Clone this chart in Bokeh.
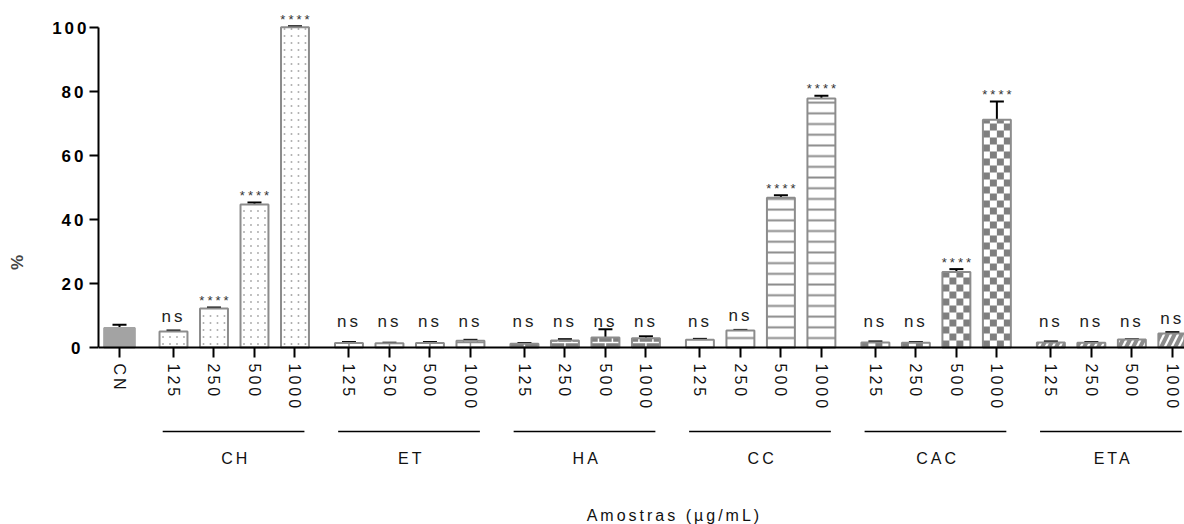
import math
from bokeh.plotting import figure
from bokeh.models import Range1d, FixedTicker, Whisker, TeeHead, ColumnDataSource
from bokeh.core.properties import value
from bokeh.embed import file_html
from bokeh.resources import INLINE

# ---- data -------------------------------------------------------------
groups = ["CH", "ET", "HA", "CC", "CAC", "ETA"]
concentrations = ["125", "250", "500", "1000"]

cn_label = "CN"
cn_mean = [6.1]
cn_err = [1.0]

ch_mean = [5.0, 12.2, 44.7, 100.1]
ch_err = [0.3, 0.3, 0.6, 0.3]
et_mean = [1.4, 1.3, 1.4, 2.1]
et_err = [0.3, 0.2, 0.3, 0.3]
ha_mean = [1.2, 2.2, 3.1, 2.9]
ha_err = [0.2, 0.4, 2.6, 0.6]
cc_mean = [2.4, 5.3, 46.8, 77.8]
cc_err = [0.3, 0.2, 0.8, 0.9]
cac_mean = [1.6, 1.5, 23.6, 71.2]
cac_err = [0.3, 0.2, 0.9, 5.7]
eta_mean = [1.6, 1.5, 2.5, 4.4]
eta_err = [0.3, 0.2, 0.1, 0.4]

ch_sig = ["ns", "****", "****", "****"]
et_sig = ["ns", "ns", "ns", "ns"]
ha_sig = ["ns", "ns", "ns", "ns"]
cc_sig = ["ns", "ns", "****", "****"]
cac_sig = ["ns", "ns", "****", "****"]
eta_sig = ["ns", "ns", "ns", "ns"]

y_ticks = [0, 20, 40, 60, 80, 100]
x_title = "Amostras (µg/mL)"
y_title = "%"

group_means = [ch_mean, et_mean, ha_mean, cc_mean, cac_mean, eta_mean]
group_errs = [ch_err, et_err, ha_err, cc_err, cac_err, eta_err]
group_sigs = [ch_sig, et_sig, ha_sig, cc_sig, cac_sig, eta_sig]

# ---- x positions: 3 units per bar, 1 extra unit between groups ----------
BAR_STEP = 3
GROUP_STEP = 4 * BAR_STEP + 1
FIRST = 4
BAR_W = 2.07


def positions(g):
    return [FIRST + g * GROUP_STEP + k * BAR_STEP for k in range(len(concentrations))]


FONT = "Liberation Sans"
GREY = "#8c8c8c"
TRACK = 3   # letter spacing in px
W, H, LEFT = 1184, 524, 98
X0, X1 = -1.556, 78.9
Y0, Y1 = -55.31, 108.44
PX_X = (W - LEFT) / (X1 - X0)   # screen pixels per x unit
PX_Y = H / (Y1 - Y0)            # screen pixels per y unit

p = figure(width=W, height=H, output_backend="svg", toolbar_location=None,
           x_range=Range1d(X0, X1), y_range=Range1d(Y0, Y1),
           min_border_left=LEFT, min_border_right=0, min_border_top=0,
           min_border_bottom=0)
p.outline_line_color = None
p.grid.visible = False
p.background_fill_color = "white"
# tracked lettering for every text in the plot (inherited by the drawing surface)
p.styles = {"letter-spacing": f"{TRACK}px"}


def centred_offset(texts, extra=0.0):
    """Horizontal shift that re-centres tracked text on its anchor."""
    return [-(len(t) - 1) * TRACK / 2 + extra for t in texts]


# ---- fill patterns built from the bar heights --------------------------
def dots(xs, tops, step_px=7.0):
    """Small grey dots on a square grid inside each bar."""
    dx, dy = BAR_W / 4, step_px / PX_Y
    px, py = [], []
    for x, t in zip(xs, tops):
        r = 0
        while (r + 0.5) * dy < t - 0.2:
            for c in range(4):
                px.append(x - BAR_W / 2 + (c + 0.5) * dx)
                py.append((r + 0.5) * dy)
            r += 1
    p.scatter(px, py, marker="square", size=1.6, fill_color="#9a9a9a",
              line_color=None)


def checker(xs, tops, cell_px=7.0):
    """Grey/white checkerboard inside each bar."""
    dx, dy = BAR_W / 4, cell_px / PX_Y
    l, r_, b, t_ = [], [], [], []
    for x, t in zip(xs, tops):
        n = math.ceil(t / dy)
        for r in range(n):
            for c in range(4):
                if (r + c) % 2 == 0:
                    l.append(x - BAR_W / 2 + c * dx)
                    r_.append(x - BAR_W / 2 + (c + 1) * dx)
                    b.append(r * dy)
                    t_.append(min((r + 1) * dy, t))
    p.quad(left=l, right=r_, bottom=b, top=t_, fill_color="#7f7f7f", line_color=None)


def bricks(xs, tops, color, row_px=5.0):
    """Brick-wall lines inside each bar."""
    dy = row_px / PX_Y
    x0s, x1s, y0s, y1s = [], [], [], []
    for x, t in zip(xs, tops):
        r = 0
        while r * dy < t:
            lo, hi = r * dy, min((r + 1) * dy, t)
            if r > 0:
                x0s.append(x - BAR_W / 2); x1s.append(x + BAR_W / 2)
                y0s.append(lo); y1s.append(lo)
            vx = [x] if r % 2 == 0 else [x - BAR_W / 4, x + BAR_W / 4]
            for v in vx:
                x0s.append(v); x1s.append(v); y0s.append(lo); y1s.append(hi)
            r += 1
    p.segment(x0=x0s, x1=x1s, y0=y0s, y1=y1s, line_color=color, line_width=1.5)


# ---- bars ---------------------------------------------------------------
p.vbar(x=[0], top=cn_mean, bottom=0, width=BAR_W + 0.2, fill_color="#a3a3a3",
       line_color="#a3a3a3", line_width=2)

bar_fill = ["white", "white", "#808080", "white", "white", "white"]
hatch = [None, None, None,
         dict(hatch_pattern="horizontal_line", hatch_color=GREY, hatch_scale=10.7,
              hatch_weight=2),
         None,
         dict(hatch_pattern="right_diagonal_line", hatch_color=GREY, hatch_scale=14,
              hatch_weight=4)]

for g in range(len(groups)):
    xs_g, tops_g = positions(g), group_means[g]
    p.vbar(x=xs_g, top=tops_g, bottom=0, width=BAR_W, fill_color=bar_fill[g],
           line_color=None, **(hatch[g] or {}))
    if g == 0:
        dots(xs_g, tops_g)
    elif g == 1:
        bricks(xs_g, tops_g, GREY)
    elif g == 2:
        bricks(xs_g, tops_g, "white")
    elif g == 4:
        checker(xs_g, tops_g)
    p.vbar(x=xs_g, top=tops_g, bottom=0, width=BAR_W, fill_color=None,
           line_color=GREY, line_width=2)

# ---- error bars ---------------------------------------------------------
xs = [0] + [x for g in range(len(groups)) for x in positions(g)]
means = cn_mean + [m for ms in group_means for m in ms]
errs = cn_err + [e for es in group_errs for e in es]
uppers = [m + e for m, e in zip(means, errs)]
err_src = ColumnDataSource(data=dict(x=xs, mean=means, upper=uppers))
p.add_layout(Whisker(source=err_src, base="x", lower="mean", upper="upper",
                     dimension="height", line_color="black", line_width=2,
                     upper_head=TeeHead(size=14, line_color="black", line_width=2),
                     lower_head=None))

# ---- significance labels ------------------------------------------------
star_x, star_y, star_t = [], [], []
ns_x, ns_y, ns_t = [], [], []
for g in range(len(groups)):
    for x, m, e, s in zip(positions(g), group_means[g], group_errs[g], group_sigs[g]):
        if s == "ns":
            ns_x.append(x)
            ns_y.append(max(m, 3.5) + 4.6)
            ns_t.append(s)
        else:
            star_x.append(x)
            star_y.append(m + e)
            star_t.append(s)

star_src = ColumnDataSource(data=dict(x=star_x, y=star_y, text=star_t,
                                      dx=centred_offset(star_t)))
ns_src = ColumnDataSource(data=dict(x=ns_x, y=ns_y, text=ns_t,
                                    dx=centred_offset(ns_t, -1.5)))
p.text(x="x", y="y", text="text", x_offset="dx", source=star_src,
       text_align="center", text_baseline="alphabetic", y_offset=-7,
       text_font=value(FONT), text_font_size="13px", text_color="#333333")
p.text(x="x", y="y", text="text", x_offset="dx", source=ns_src,
       text_align="center", text_baseline="alphabetic",
       text_font=value(FONT), text_font_size="17px", text_color="#222222")

# ---- group brackets and names under the axis ---------------------------
LINE_Y = -26.25
NAME_Y = -34.6
firsts = [positions(g)[0] - 0.8 for g in range(len(groups))]
lasts = [positions(g)[-1] + 0.7 for g in range(len(groups))]
centers = [(positions(g)[0] + positions(g)[-1]) / 2 for g in range(len(groups))]
p.segment(x0=firsts, x1=lasts, y0=[LINE_Y] * len(groups), y1=[LINE_Y] * len(groups),
          line_color="black", line_width=1.5)
grp_src = ColumnDataSource(data=dict(x=centers, y=[NAME_Y] * len(groups), text=groups,
                                     dx=centred_offset(groups)))
p.text(x="x", y="y", text="text", x_offset="dx", source=grp_src,
       text_align="center", text_baseline="middle", text_font=value(FONT),
       text_font_size="16px", text_color="#111111")
ttl_src = ColumnDataSource(data=dict(x=[41.0], y=[-52.5], text=[x_title],
                                     dx=centred_offset([x_title])))
p.text(x="x", y="y", text="text", x_offset="dx", source=ttl_src,
       text_align="center", text_baseline="middle", text_font=value(FONT),
       text_font_size="16px", text_color="#111111")

# ---- axes -------------------------------------------------------------
overrides = {0: cn_label}
for g in range(len(groups)):
    for x, c in zip(positions(g), concentrations):
        overrides[x] = c

xa = p.xaxis[0]
xa.ticker = FixedTicker(ticks=xs)
xa.major_label_overrides = overrides
xa.major_label_orientation = "vertical"
xa.fixed_location = 0
xa.axis_line_width = 2
xa.major_tick_line_width = 2
xa.major_tick_out = 10
xa.major_tick_in = 0
xa.minor_tick_out = 0
xa.minor_tick_in = 0
xa.major_label_standoff = 6
xa.major_label_text_font = FONT
xa.major_label_text_font_size = "16px"
xa.major_label_text_color = "#111111"

ya = p.yaxis[0]
ya.ticker = FixedTicker(ticks=y_ticks)
ya.bounds = (0, 100)
ya.axis_line_width = 2
ya.major_tick_line_width = 2
ya.major_tick_out = 9
ya.major_tick_in = 0
ya.minor_tick_out = 0
ya.minor_tick_in = 0
ya.major_label_standoff = 9
ya.major_label_text_font = FONT
ya.major_label_text_font_style = "bold"
ya.major_label_text_font_size = "17px"
ya.major_label_text_color = "black"
ya.axis_label = y_title
ya.axis_label_text_font = FONT
ya.axis_label_text_font_style = "bold"
ya.axis_label_text_font_size = "17px"
ya.axis_label_standoff = 22

open("out.html", "w").write(file_html(p, INLINE))
